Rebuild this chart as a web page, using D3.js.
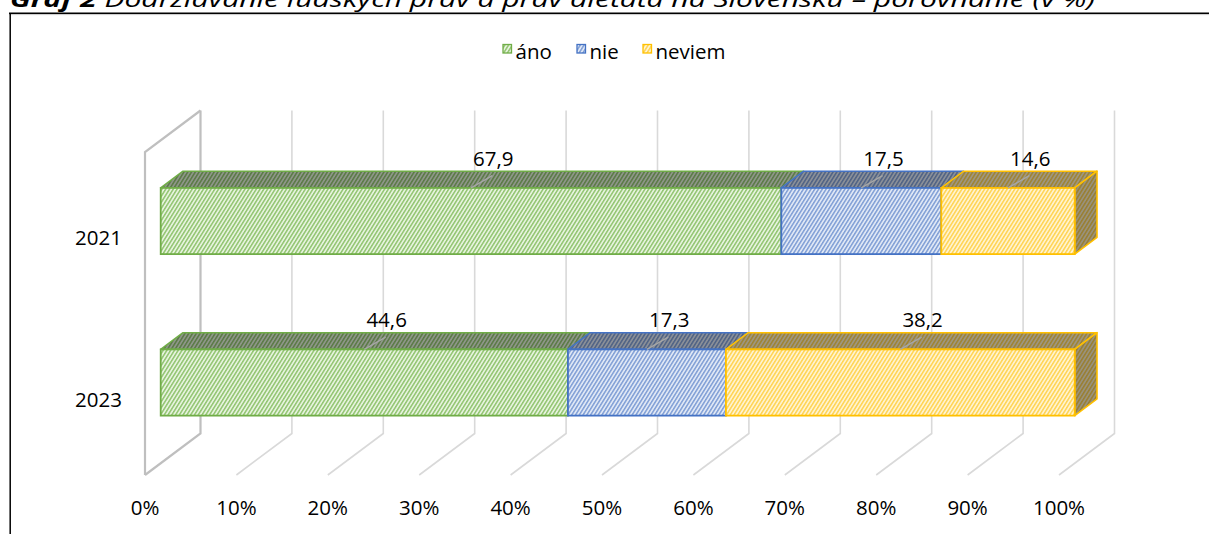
<!DOCTYPE html>
<html>
<head>
<meta charset="utf-8">
<script src="https://cdn.jsdelivr.net/npm/d3@7"></script>
<style>
html,body{margin:0;padding:0;background:#fff;overflow:hidden;}
svg{display:block;}
text{font-family:"Open Sans","DejaVu Sans",sans-serif;}
</style>
</head>
<body>
<div id="chart"></div>
<script>
// ---- data ----
const categories = ["2021", "2023"];
const seriesNames = ["áno", "nie", "neviem"];
const anoValues = [67.9, 44.6];
const nieValues = [17.5, 17.3];
const neviemValues = [14.6, 38.2];
const tickValues = [0, 10, 20, 30, 40, 50, 60, 70, 80, 90, 100];
const tickLabels = ["0%", "10%", "20%", "30%", "40%", "50%", "60%", "70%", "80%", "90%", "100%"];
const titleBold = "Graf 2";
const titleRest = " Dodržiavanie ľudských práv a práv dieťaťa na Slovensku – porovnanie (v %)";

const seriesValues = [anoValues, nieValues, neviemValues];
const borderColors = ["#70ad47", "#4472c4", "#ffc000"];
const bgColors = ["#e6f3dd", "#dfe7f5", "#fff3cf"];
const lineColors = ["#92c571", "#819fd6", "#ffd453"];

const W = 1209, H = 534;
const svg = d3.select("#chart").append("svg").attr("width", W).attr("height", H);
const defs = svg.append("defs");

// hatch patterns
seriesNames.forEach((s, i) => {
  const p = defs.append("pattern").attr("id", "hatch" + i)
    .attr("patternUnits", "userSpaceOnUse").attr("width", 3.2).attr("height", 3.2)
    .attr("patternTransform", "rotate(32)");
  p.append("rect").attr("width", 3.2).attr("height", 3.2).attr("fill", bgColors[i]);
  p.append("rect").attr("x", 0).attr("y", 0).attr("width", 1.5).attr("height", 3.2).attr("fill", lineColors[i]);
});

// frame + title
svg.append("text").attr("x", 10).attr("y", 6.5)
  .attr("font-size", 22).attr("font-style", "italic")
  .attr("textLength", 1085).attr("lengthAdjust", "spacingAndGlyphs")
  .call(t => { t.append("tspan").attr("font-weight", "bold").text(titleBold); t.append("tspan").text(titleRest); });
svg.append("line").attr("x1", 9).attr("x2", W).attr("y1", 13.3).attr("y2", 13.3).attr("stroke", "#000").attr("stroke-width", 1.5);
svg.append("line").attr("x1", 9).attr("x2", W).attr("y1", 14.6).attr("y2", 14.6).attr("stroke", "#bbb").attr("stroke-width", 0.8);
svg.append("line").attr("x1", 10.2).attr("x2", 10.2).attr("y1", 13).attr("y2", H).attr("stroke", "#000").attr("stroke-width", 1.5);

// scales (front plane z=0)
const x = d3.scaleLinear().domain([0, 100]).range([145, 1059]);
const y = d3.scaleBand().domain(categories).range([152, 475]).padding(0);
const DX = 55.5, DY = -41.5;
const P = (v, yy, z) => [x(v) + z * DX, yy + z * DY];
const zF = 0.283, zB = 0.685;
const bw = y.bandwidth();
const barH = bw * 0.41;

// gridlines
const grid = svg.append("g").attr("fill", "none");
const yTop = y.range()[0], yBot = y.range()[1];
tickValues.forEach(t => {
  const isWall = t === 0;
  const col = isWall ? "#bfbfbf" : "#d9d9d9";
  const sw = isWall ? 2.2 : 1.6;
  const a = P(t, yTop, 1), b = P(t, yBot, 1), c = P(t, yBot, 0);
  grid.append("path").attr("d", d3.line()([a, b, c])).attr("stroke", col).attr("stroke-width", sw);
  if (isWall) {
    const d = P(t, yTop, 0);
    grid.append("path").attr("d", d3.line()([c, d, a])).attr("stroke", col).attr("stroke-width", sw);
  }
});

// tick labels
svg.append("g").selectAll("text").data(tickValues).join("text")
  .attr("x", d => x(d)).attr("y", 515).attr("text-anchor", "middle")
  .attr("font-size", 20.5).attr("fill", "#000")
  .text((d, i) => tickLabels[i]);

// category labels
svg.append("g").selectAll("text").data(categories).join("text")
  .attr("x", 122).attr("y", d => y(d) + bw / 2 + 12.5).attr("text-anchor", "end")
  .attr("font-size", 20.5).attr("fill", "#000")
  .text(d => d);

// bars
const barsG = svg.append("g");
const labelsG = svg.append("g");
categories.forEach((cat, ci) => {
  const total = d3.sum(seriesValues, s => s[ci]);
  const yt = y(cat) + (bw - barH) / 2, yb = yt + barH;
  let cum = 0;
  seriesValues.forEach((s, si) => {
    const v0 = cum / total * 100, v1 = (cum + s[ci]) / total * 100;
    cum += s[ci];
    const ftl = P(v0, yt, zF), ftr = P(v1, yt, zF), fbl = P(v0, yb, zF), fbr = P(v1, yb, zF);
    const btl = P(v0, yt, zB), btr = P(v1, yt, zB), bbr = P(v1, yb, zB);
    const top = [ftl, btl, btr, ftr];
    barsG.append("polygon").attr("points", top.join(" ")).attr("fill", `url(#hatch${si})`);
    barsG.append("polygon").attr("points", top.join(" ")).attr("fill", "#000").attr("fill-opacity", 0.38)
      .attr("stroke", borderColors[si]).attr("stroke-width", 1.6).attr("stroke-linejoin", "round");
    if (si === seriesValues.length - 1) {
      const side = [ftr, btr, bbr, fbr];
      barsG.append("polygon").attr("points", side.join(" ")).attr("fill", `url(#hatch${si})`);
      barsG.append("polygon").attr("points", side.join(" ")).attr("fill", "#000").attr("fill-opacity", 0.4)
        .attr("stroke", borderColors[si]).attr("stroke-width", 1.6).attr("stroke-linejoin", "round");
    }
    barsG.append("rect").attr("x", ftl[0]).attr("y", ftl[1]).attr("width", ftr[0] - ftl[0]).attr("height", barH)
      .attr("fill", `url(#hatch${si})`).attr("stroke", borderColors[si]).attr("stroke-width", 1.8);

    // label + leader
    const fc = (ftl[0] + ftr[0]) / 2;
    const lx = (btl[0] + btr[0]) / 2;
    const base = btl[1] - 5.5;
    labelsG.append("line").attr("x1", fc).attr("y1", ftl[1]).attr("x2", lx - 1).attr("y2", base + 10)
      .attr("stroke", "#a6a6a6").attr("stroke-width", 1.5);
    labelsG.append("text").attr("x", lx).attr("y", base).attr("text-anchor", "middle")
      .attr("font-size", 20.5).attr("fill", "#000")
      .text(d3.format(".1f")(s[ci]).replace(".", ","));
  });
});

// legend
const legendX = [503, 577, 643];
const lg = svg.append("g");
seriesNames.forEach((s, i) => {
  lg.append("rect").attr("x", legendX[i]).attr("y", 44.5).attr("width", 8.5).attr("height", 8.5)
    .attr("fill", `url(#hatch${i})`).attr("stroke", borderColors[i]).attr("stroke-width", 1.3);
  lg.append("text").attr("x", legendX[i] + 12.5).attr("y", 58.5).attr("font-size", 20.5).attr("fill", "#000").text(s);
});
</script>
</body>
</html>
